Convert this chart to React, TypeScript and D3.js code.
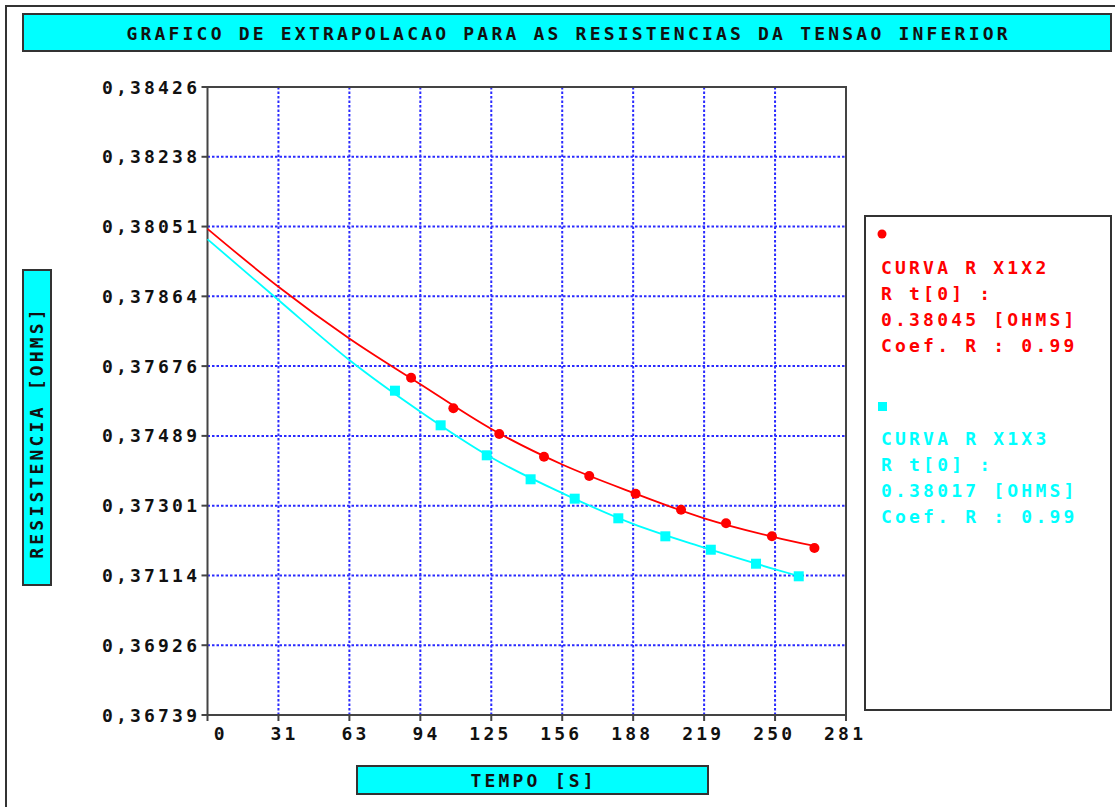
import React from 'react';
import * as d3 from 'd3';

// tick labels as printed on the chart
const yTickLabels = ['0,36739', '0,36926', '0,37114', '0,37301', '0,37489', '0,37676', '0,37864', '0,38051', '0,38238', '0,38426'];
const xTickLabels = ['0', '31', '63', '94', '125', '156', '188', '219', '250', '281'];

// measured points, curve R X1X2
const redT = [89.6, 108.2, 128.4, 148.1, 168.0, 188.4, 208.4, 228.2, 248.4, 267.1];
const redR = [0.376451, 0.375629, 0.374939, 0.374329, 0.37381, 0.373335, 0.372905, 0.37254, 0.37219, 0.371876];

// measured points, curve R X1X3
const cyanT = [82.5, 102.6, 122.9, 142.2, 161.6, 180.8, 201.5, 221.5, 241.4, 260.2];
const cyanR = [0.376102, 0.375172, 0.374366, 0.373722, 0.373201, 0.372674, 0.37219, 0.37183, 0.371454, 0.371116];

const redFitT = [0, 31.2, 62.4, 93.7, 124.9, 156.1, 187.3, 218.6, 249.8, 267.1];
const redFitR = [0.38045, 0.378895, 0.377504, 0.376274, 0.375073, 0.374119, 0.373362, 0.372674, 0.372164, 0.37193];
const cyanFitT = [0, 31.2, 62.4, 93.7, 124.9, 156.1, 187.3, 218.6, 249.8, 260.2];
const cyanFitR = [0.38017, 0.378538, 0.376926, 0.375538, 0.374307, 0.373351, 0.372523, 0.371884, 0.371304, 0.371124];

const legendRed = ['CURVA R X1X2', 'R t[0] :', '0.38045 [OHMS]', 'Coef. R : 0.99'];
const legendCyan = ['CURVA R X1X3', 'R t[0] :', '0.38017 [OHMS]', 'Coef. R : 0.99'];

const RED = '#ff0000';
const CYAN = '#00ffff';
const FONT = '"DejaVu Sans Mono", monospace';
const FS = 18;
const LS = 3.2;

const W = 1115;
const H = 807;
const plot = { left: 207.5, right: 846, top: 87, bottom: 715 };

const x = d3.scaleLinear().domain([0, 281]).range([plot.left, plot.right]);
const y = d3.scaleLinear().domain([0.36739, 0.38426]).range([plot.bottom, plot.top]);

const xTicks = xTickLabels.map((_, i) => (281 * i) / 9);
const yTicks = yTickLabels.map((_, i) => 0.36739 + ((0.38426 - 0.36739) * i) / 9);

const line = d3
    .line<[number, number]>()
    .x(d => x(d[0]))
    .y(d => y(d[1]))
    .curve(d3.curveMonotoneX);

const txt = {
    fontFamily: FONT,
    fontSize: FS,
    fontWeight: 'bold' as const,
    letterSpacing: LS,
};

const App = () => {
    const redFit = redFitT.map((t, i) => [t, redFitR[i]] as [number, number]);
    const cyanFit = cyanFitT.map((t, i) => [t, cyanFitR[i]] as [number, number]);

    return (
        <svg width={W} height={H} style={{ position: 'absolute', left: 0, top: 0, background: '#fff' }}>
            {/* outer frame */}
            <rect x={6} y={6} width={W + 20} height={H + 20} fill="#fff" stroke="#333" strokeWidth={2} />

            {/* title */}
            <rect x={23} y={14} width={1088} height={37} fill={CYAN} stroke="#333" strokeWidth={2} />
            <text x={567 + LS / 2} y={33} textAnchor="middle" dominantBaseline="central" fill="#111" style={txt}>
                GRAFICO DE EXTRAPOLACAO PARA AS RESISTENCIAS DA TENSAO INFERIOR
            </text>

            {/* grid */}
            <g stroke="#2a2aff" strokeWidth={2} strokeDasharray="2.5,2">
                {xTicks.slice(1, -1).map((t, i) => (
                    <line key={'gx' + i} x1={x(t)} x2={x(t)} y1={plot.top} y2={plot.bottom} />
                ))}
                {yTicks.slice(1, -1).map((v, i) => (
                    <line key={'gy' + i} x1={plot.left} x2={plot.right} y1={y(v)} y2={y(v)} />
                ))}
            </g>

            {/* plot frame and ticks */}
            <g stroke="#444" strokeWidth={2} fill="none">
                <rect x={plot.left} y={plot.top} width={plot.right - plot.left} height={plot.bottom - plot.top} />
                {yTicks.map((v, i) => (
                    <line key={'ty' + i} x1={plot.left - 6} x2={plot.left} y1={y(v)} y2={y(v)} />
                ))}
                {xTicks.map((t, i) => (
                    <line key={'tx' + i} x1={x(t)} x2={x(t)} y1={plot.bottom} y2={plot.bottom + 6} />
                ))}
            </g>

            {yTicks.map((v, i) => (
                <text key={'ly' + i} x={197 + LS} y={y(v)} textAnchor="end" dominantBaseline="central" fill="#111" style={txt}>
                    {yTickLabels[i]}
                </text>
            ))}
            {xTicks.map((t, i) => (
                <text key={'lx' + i} x={x(t) + 17 + LS} y={733} textAnchor="end" dominantBaseline="central" fill="#111" style={txt}>
                    {xTickLabels[i]}
                </text>
            ))}

            {/* fitted curves */}
            <path d={line(redFit) || ''} fill="none" stroke={RED} strokeWidth={1.8} />
            <path d={line(cyanFit) || ''} fill="none" stroke={CYAN} strokeWidth={1.8} />

            {/* measured points */}
            {redT.map((t, i) => (
                <circle key={'r' + i} cx={x(t)} cy={y(redR[i])} r={5} fill={RED} />
            ))}
            {cyanT.map((t, i) => (
                <rect key={'c' + i} x={x(t) - 5} y={y(cyanR[i]) - 5} width={10} height={10} fill={CYAN} />
            ))}

            {/* axis titles */}
            <rect x={357} y={766} width={351} height={28} fill={CYAN} stroke="#333" strokeWidth={2} />
            <text x={532 + LS / 2} y={780} textAnchor="middle" dominantBaseline="central" fill="#111" style={txt}>
                TEMPO [S]
            </text>
            <rect x={23} y={270} width={28} height={315} fill={CYAN} stroke="#333" strokeWidth={2} />
            <text
                transform={`translate(36,${434 - LS / 2}) rotate(-90)`}
                textAnchor="middle"
                dominantBaseline="central"
                fill="#111"
                style={txt}
            >
                RESISTENCIA [OHMS]
            </text>

            {/* legend */}
            <rect x={865} y={216} width={246} height={494} fill="#fff" stroke="#333" strokeWidth={2} />
            <circle cx={882} cy={234} r={4.5} fill={RED} />
            {legendRed.map((s, i) => (
                <text key={'lr' + i} x={881} y={267 + i * 26} dominantBaseline="central" fill={RED} style={txt}>
                    {s}
                </text>
            ))}
            <rect x={878} y={402} width={9} height={9} fill={CYAN} />
            {legendCyan.map((s, i) => (
                <text key={'lc' + i} x={881} y={438 + i * 26.3} dominantBaseline="central" fill={CYAN} style={txt}>
                    {s}
                </text>
            ))}
        </svg>
    );
};

export default App;
